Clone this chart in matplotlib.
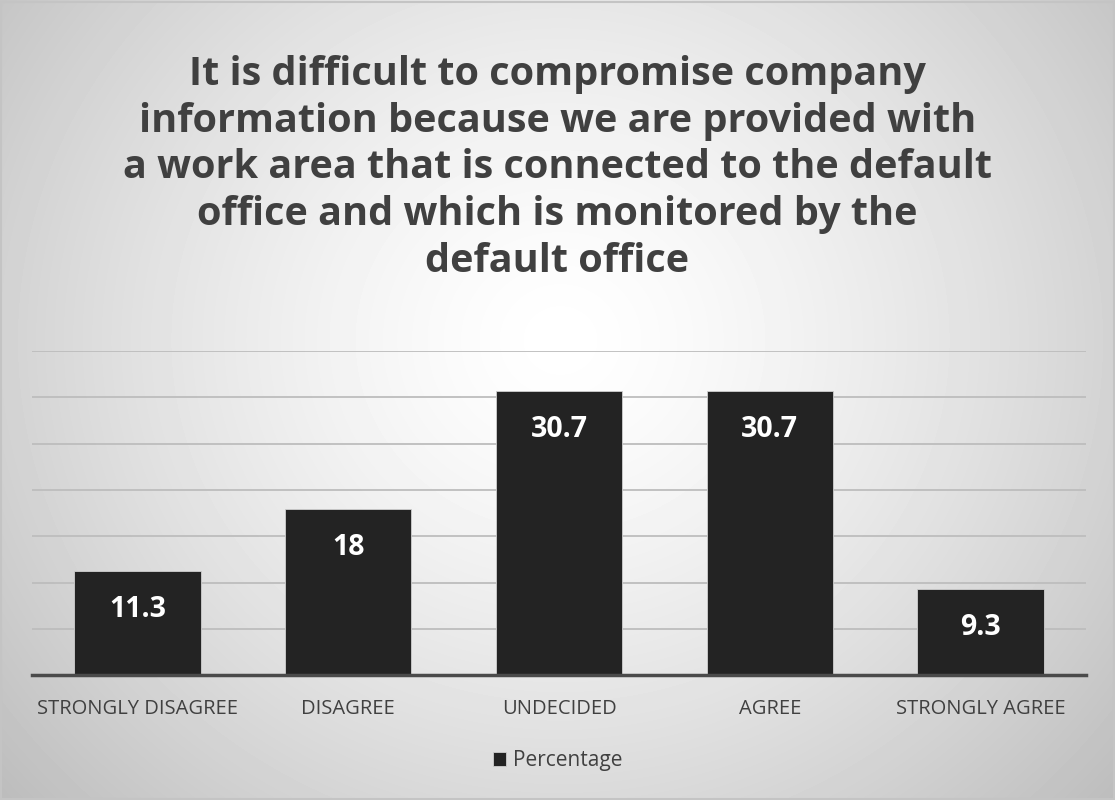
import numpy as np
import matplotlib.pyplot as plt
from matplotlib.patches import Rectangle

categories = ['STRONGLY DISAGREE', 'DISAGREE', 'UNDECIDED', 'AGREE', 'STRONGLY AGREE']
percentage = [11.3, 18, 30.7, 30.7, 9.3]
value_labels = ['11.3', '18', '30.7', '30.7', '9.3']
title = ('It is difficult to compromise company\n'
         'information because we are provided with\n'
         'a work area that is connected to the default\n'
         'office and which is monitored by the\n'
         'default office')

plt.rcParams['font.family'] = ['Open Sans', 'DejaVu Sans']
text_color = '#404040'
bar_color = '#232323'

fig = plt.figure(figsize=(11.15, 8), dpi=100)

# radial gradient background, lightest around the upper middle
bg = fig.add_axes([0, 0, 1, 1], zorder=0)
yy, xx = np.mgrid[0:800, 0:1115]
r = np.sqrt(((xx - 560) / 700.0) ** 2 + ((yy - 340) / 650.0) ** 2)
shade = np.clip(1.0 - 0.24 * r ** 1.4, 0, 1)
bg.imshow(shade, cmap='gray', vmin=0, vmax=1, aspect='auto', extent=[0, 1, 0, 1])
bg.add_patch(Rectangle((0.001, 0.001), 0.998, 0.997, fill=False, edgecolor='#c4c4c4', lw=1.5))
bg.set_xlim(0, 1)
bg.set_ylim(0, 1)
bg.axis('off')

ax = fig.add_axes([0.0287, 0.156, 0.9453, 0.405], zorder=1)
ax.patch.set_alpha(0)
x = np.arange(len(categories))
bars = ax.bar(x, percentage, width=0.6, color=bar_color, edgecolor='#d0d0d0',
              linewidth=0.6, zorder=3, label='Percentage')
for i, v in enumerate(percentage):
    ax.annotate(value_labels[i], (x[i], v), xytext=(0, -28), textcoords='offset points',
                ha='center', va='center', color='white', fontsize=20.5, fontweight='bold', zorder=4)

ax.set_xlim(-0.5, len(categories) - 0.5)
ax.set_ylim(0, 35)
ax.set_yticks(np.arange(0, 36, 5))
ax.yaxis.grid(True, color='#bdbdbd', linewidth=1.3, zorder=1)
ax.tick_params(axis='y', left=False, labelleft=False)
ax.tick_params(axis='x', length=0, pad=17, labelsize=14.5, labelcolor=text_color)
ax.set_xticks(x)
ax.set_xticklabels(categories)
for side in ['top', 'right', 'left']:
    ax.spines[side].set_visible(False)
ax.spines['bottom'].set_color('#4a4a4a')
ax.spines['bottom'].set_linewidth(2.5)
ax.spines['bottom'].set_zorder(5)

leg = fig.legend(handles=[bars], labels=['Percentage'], loc='center', bbox_to_anchor=(0.5, 0.049),
                 frameon=False, fontsize=15, handlelength=0.65, handleheight=0.65, handletextpad=0.3)
for t in leg.get_texts():
    t.set_color(text_color)

fig.text(0.5, 0.79, title, ha='center', va='center', fontsize=28.5, fontweight='bold',
         color=text_color, linespacing=1.25)

fig.savefig('out.png', dpi=100)
